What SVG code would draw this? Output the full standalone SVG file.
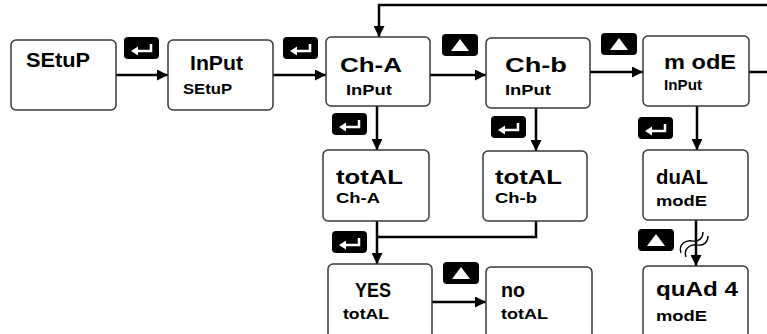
<svg xmlns="http://www.w3.org/2000/svg" width="767" height="334" viewBox="0 0 767 334">
<defs>
<style>
.box{fill:#fff;stroke:#3a3a3a;stroke-width:1.5}
.big{font-family:"Liberation Sans",Arial,sans-serif;font-weight:bold;font-size:21px;fill:#000}
.sm{font-family:"Liberation Sans",Arial,sans-serif;font-weight:bold;font-size:14px;fill:#000}
.ln{fill:none;stroke:#000;stroke-width:2.5}
.btn{fill:#000}
.ico{fill:none;stroke:#fff;stroke-width:2.5}
.tri{fill:#fff}
.sq{fill:none;stroke:#000;stroke-width:1.4}
</style>
<marker id="ah" viewBox="0 0 10 10" refX="10" refY="5" markerWidth="5" markerHeight="4.4" orient="auto" markerUnits="strokeWidth">
<path d="M0,0 L10,5 L0,10 Z" fill="#000"/>
</marker>
<g id="enterBtn"><rect class="btn" x="0" y="0" width="35" height="22" rx="4"/><path class="ico" d="M13,14 H27 V7"/><path class="tri" d="M7,14 L14,9.5 L14,18.5 Z"/></g>
<g id="upBtn"><rect class="btn" x="0" y="0" width="36" height="22" rx="4"/><path class="tri" d="M18,5 L27,17 L9,17 Z"/></g>
</defs>
<rect width="767" height="334" fill="#fff"/>

<g id="connectors">
<line class="ln" x1="116" y1="75" x2="168" y2="75" marker-end="url(#ah)"/>
<line class="ln" x1="273" y1="75" x2="326" y2="75" marker-end="url(#ah)"/>
<line class="ln" x1="430" y1="75" x2="486" y2="75" marker-end="url(#ah)"/>
<line class="ln" x1="590" y1="72" x2="643" y2="72" marker-end="url(#ah)"/>
<polyline class="ln" points="749,72 770,72"/>
<polyline class="ln" points="770,5 379,5 379,37" marker-end="url(#ah)"/>
<line class="ln" x1="377" y1="106" x2="377" y2="150" marker-end="url(#ah)"/>
<line class="ln" x1="536" y1="108" x2="536" y2="151" marker-end="url(#ah)"/>
<line class="ln" x1="697" y1="106" x2="697" y2="150" marker-end="url(#ah)"/>
<line class="ln" x1="377" y1="221" x2="377" y2="264" marker-end="url(#ah)"/>
<polyline class="ln" points="536,221 536,237 377,237"/>
<line class="ln" x1="432" y1="302" x2="486" y2="302" marker-end="url(#ah)"/>
<line class="ln" x1="696" y1="220" x2="696" y2="266" marker-end="url(#ah)"/>
<path class="sq" d="M681,253 C678,244 686,240 692,241 C699,242 703,238 703,232"/>
<path class="sq" d="M686,257 C683,248 691,244 697,245 C704,246 708,242 708,236"/>
<use href="#enterBtn" x="124" y="37"/>
<use href="#enterBtn" x="283" y="37"/>
<use href="#upBtn" x="442" y="34"/>
<use href="#upBtn" x="601" y="33"/>
<use href="#enterBtn" x="332" y="113"/>
<use href="#enterBtn" x="491" y="116"/>
<use href="#enterBtn" x="638" y="117"/>
<use href="#enterBtn" x="332" y="231"/>
<use href="#upBtn" x="443" y="262"/>
<use href="#upBtn" x="638" y="229"/>
</g>

<g id="n-setup">
<rect class="box" x="11" y="40" width="105" height="70" rx="5"/>
<text class="big" x="26" y="67" textLength="64" lengthAdjust="spacingAndGlyphs">SEtuP</text>
</g>
<g id="n-input-setup">
<rect class="box" x="168" y="40" width="105" height="70" rx="5"/>
<text class="big" x="190" y="70" textLength="53" lengthAdjust="spacingAndGlyphs">InPut</text>
<text class="sm" x="183" y="94" textLength="49" lengthAdjust="spacingAndGlyphs">SEtuP</text>
</g>
<g id="n-cha">
<rect class="box" x="326" y="37" width="104" height="69" rx="5"/>
<text class="big" x="340" y="72" textLength="62" lengthAdjust="spacingAndGlyphs">Ch-A</text>
<text class="sm" x="346" y="95" textLength="46" lengthAdjust="spacingAndGlyphs">InPut</text>
</g>
<g id="n-chb">
<rect class="box" x="486" y="38" width="104" height="70" rx="5"/>
<text class="big" x="505" y="72" textLength="62" lengthAdjust="spacingAndGlyphs">Ch-b</text>
<text class="sm" x="505" y="95" textLength="46" lengthAdjust="spacingAndGlyphs">InPut</text>
</g>
<g id="n-mode">
<rect class="box" x="643" y="36" width="106" height="70" rx="5"/>
<text class="big" x="664" y="69" textLength="72" lengthAdjust="spacingAndGlyphs">m odE</text>
<text class="sm" x="664" y="90" textLength="38" lengthAdjust="spacingAndGlyphs">InPut</text>
</g>
<g id="n-total-cha">
<rect class="box" x="323" y="150" width="106" height="71" rx="5"/>
<text class="big" x="336" y="184" textLength="67" lengthAdjust="spacingAndGlyphs">totAL</text>
<text class="sm" x="336" y="203" font-size="17" textLength="44" lengthAdjust="spacingAndGlyphs">Ch-A</text>
</g>
<g id="n-total-chb">
<rect class="box" x="483" y="151" width="104" height="70" rx="5"/>
<text class="big" x="495" y="184" textLength="67" lengthAdjust="spacingAndGlyphs">totAL</text>
<text class="sm" x="495" y="203" font-size="17" textLength="42" lengthAdjust="spacingAndGlyphs">Ch-b</text>
</g>
<g id="n-yes">
<rect class="box" x="328" y="264" width="104" height="74" rx="5"/>
<text class="big" x="355" y="297" textLength="36" lengthAdjust="spacingAndGlyphs">YES</text>
<text class="sm" x="343" y="319" textLength="46" lengthAdjust="spacingAndGlyphs">totAL</text>
</g>
<g id="n-no">
<rect class="box" x="486" y="267" width="106" height="71" rx="5"/>
<text class="big" x="501" y="297" textLength="24" lengthAdjust="spacingAndGlyphs">no</text>
<text class="sm" x="501" y="319" textLength="47" lengthAdjust="spacingAndGlyphs">totAL</text>
</g>
<g id="n-dual">
<rect class="box" x="643" y="150" width="105" height="70" rx="5"/>
<text class="big" x="656" y="184" textLength="52" lengthAdjust="spacingAndGlyphs">duAL</text>
<text class="sm" x="656" y="206" textLength="51" lengthAdjust="spacingAndGlyphs">modE</text>
</g>
<g id="n-quad">
<rect class="box" x="643" y="266" width="105" height="72" rx="5"/>
<text class="big" x="656" y="296" textLength="82" lengthAdjust="spacingAndGlyphs">quAd 4</text>
<text class="sm" x="656" y="321" textLength="51" lengthAdjust="spacingAndGlyphs">modE</text>
</g>
</svg>
